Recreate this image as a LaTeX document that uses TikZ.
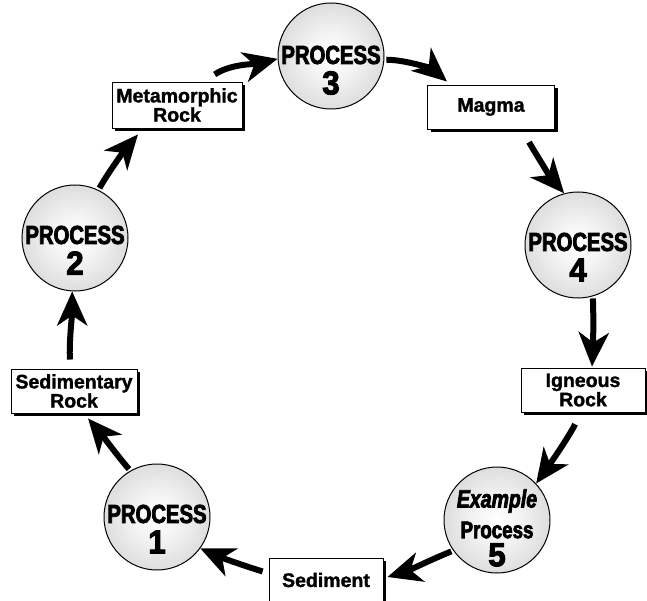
\documentclass[tikz,border=0pt]{standalone}
\usepackage{fontspec}
\setmainfont{Liberation Sans}
\newfontfamily\boxfnt[FakeBold=1.5]{Liberation Sans Bold}
\newfontfamily\heavy[FakeStretch=0.78,FakeBold=3]{Liberation Sans Bold}
\newfontfamily\heavyit[FakeStretch=0.78,FakeBold=3]{Liberation Sans Bold Italic}
\newfontfamily\numfnt[FakeStretch=0.95,FakeBold=3]{Liberation Sans Bold}
\usetikzlibrary{arrows.meta,shadows,calc}
\pgfdeclareradialshading{ballshade}{\pgfpoint{0bp}{0bp}}{color(0bp)=(white); color(10bp)=(black!4); color(30bp)=(black!16); color(50bp)=(black!38)}
\begin{document}
\begin{tikzpicture}[x=1pt,y=-1pt,
  box/.style={draw=black, line width=0.9pt, fill=white, inner sep=0pt, align=center,
    font=\boxfnt\fontsize{19.5}{17.5}\selectfont,
    drop shadow={shadow xshift=3pt, shadow yshift=-3pt, fill=black, opacity=1}},
  ball/.style={circle, draw=black, line width=1pt, shading=ballshade, minimum size=106pt, inner sep=0pt},
  proc/.style={font=\heavy\fontsize{26}{26}\selectfont, inner sep=0pt},
  procit/.style={font=\heavyit\fontsize{25}{25}\selectfont, inner sep=0pt},
  num/.style={font=\numfnt\fontsize{33}{33}\selectfont, inner sep=0pt},
  flow/.style={line width=6pt, shorten <=2pt, -{Stealth[length=34pt,width=30pt,inset=10pt]}}]
\useasboundingbox (0,0) rectangle (647,601);

% boxes
\node[box, minimum width=130pt, minimum height=46pt] (meta) at (177,105) {Metamorphic\\Rock};
\node[box, minimum width=127pt, minimum height=44pt] (magma) at (491,107) {Magma};
\node[box, minimum width=126pt, minimum height=44pt] (sedim) at (74,391) {Sedimentary\\Rock};
\node[box, minimum width=124pt, minimum height=44pt] (ign) at (583,390) {Igneous\\Rock};
\node[box, minimum width=114pt, minimum height=44pt] (sed) at (326,580) {Sediment};

% circles
\node[ball] (p3) at (331,56) {};
\node[ball] (p4) at (578,245) {};
\node[ball] (p2) at (75,238) {};
\node[ball] (p1) at (157,517) {};
\node[ball] (p5) at (497,520) {};

\node[proc] (p3a) at ($(p3)+(0,-1)$) {PROCESS};
\node[num]  (p3b) at ($(p3)+(0,27)$) {3};
\node[proc] (p4a) at ($(p4)+(0,-3)$) {PROCESS};
\node[num]  (p4b) at ($(p4)+(0,25)$) {4};
\node[proc] (p2a) at ($(p2)+(0,-3)$) {PROCESS};
\node[num]  (p2b) at ($(p2)+(0,25)$) {2};
\node[proc] (p1a) at ($(p1)+(0,-3)$) {PROCESS};
\node[num]  (p1b) at ($(p1)+(0,25)$) {1};
\node[procit] (p5a) at ($(p5)+(0,-19)$) {Example};
\node[proc, font=\heavy\fontsize{24}{24}\selectfont] (p5b) at ($(p5)+(0,10)$) {Process};
\node[num]  (p5c) at ($(p5)+(0,35)$) {5};

% arrows
\draw[flow] ([xshift=36pt,yshift=6pt]meta.north) .. controls ($([xshift=36pt,yshift=6pt]meta.north)+(18,-12)$) and ($(p3.183)+(-20,5)$) .. (p3.183);
\draw[flow] (p3.356) .. controls ($(p3.356)+(22,0)$) and ($([xshift=-44pt,yshift=3pt]magma.north)+(-14,-12)$) .. ([xshift=-44pt,yshift=3pt]magma.north);
\draw[flow] ([xshift=37pt,yshift=-11pt]magma.south) .. controls ($([xshift=37pt,yshift=-11pt]magma.south)+(10,17)$) and ($(p4.105)+(-13,-15)$) .. (p4.105);
\draw[flow] (p4.286) .. controls ($(p4.286)+(1,20)$) and ($([xshift=9pt,yshift=1pt]ign.north)+(1,-20)$) .. ([xshift=9pt,yshift=1pt]ign.north);
\draw[flow] ([xshift=-7pt,yshift=-10pt]ign.south) .. controls ($([xshift=-7pt,yshift=-10pt]ign.south)+(-8,16)$) and ($(p5.43)+(10,-14)$) .. (p5.43);
\draw[flow] (p5.215) .. controls ($(p5.215)+(-20,8)$) and ($([xshift=4pt,yshift=3pt]sed.east)+(20,-6)$) .. ([xshift=4pt,yshift=3pt]sed.east);
\draw[flow] ([xshift=-4pt,yshift=8pt]sed.west) .. controls ($([xshift=-4pt,yshift=8pt]sed.west)+(-20,-6)$) and ($(p1.-36)+(18,8)$) .. (p1.-36);
\draw[flow] (p1.120) .. controls ($(p1.120)+(-12,-14)$) and ($([xshift=14pt,yshift=-5pt]sedim.south)+(12,14)$) .. ([xshift=14pt,yshift=-5pt]sedim.south);
\draw[flow] ([xshift=-4pt,yshift=7pt]sedim.north) .. controls ($([xshift=-4pt,yshift=7pt]sedim.north)+(-1,-20)$) and ($(p2.267)+(0,22)$) .. (p2.267);
\draw[flow] (p2.64) .. controls ($(p2.64)+(10,-18)$) and ($([xshift=-39pt,yshift=-6pt]meta.south)+(-12,14)$) .. ([xshift=-39pt,yshift=-6pt]meta.south);
\end{tikzpicture}
\end{document}
